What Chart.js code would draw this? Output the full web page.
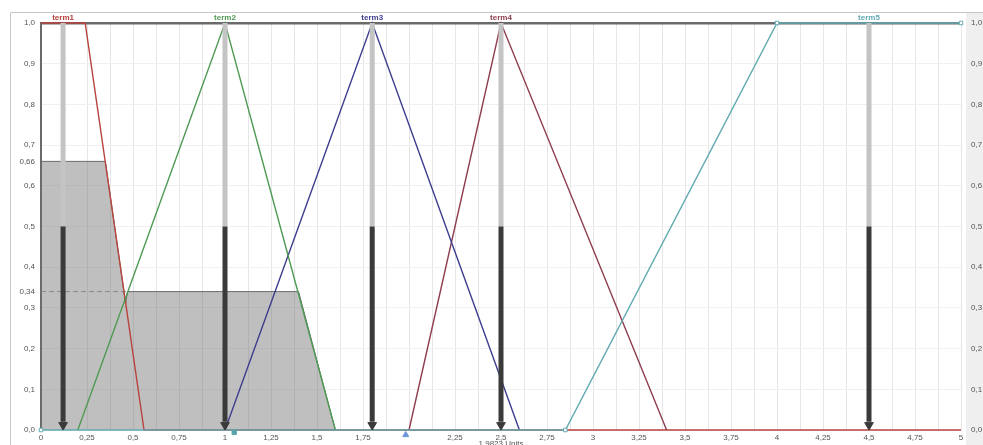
<!DOCTYPE html>
<html>
<head>
<meta charset="utf-8">
<script src="https://cdn.jsdelivr.net/npm/chart.js@4.4.0/dist/chart.umd.min.js"></script>
<style>
  html, body { margin: 0; padding: 0; background: #fff; overflow: hidden; }
  #wrap { position: relative; width: 1000px; height: 449px; }
</style>
</head>
<body>
<div id="wrap"><canvas id="fuzzyChart" width="1000" height="449"></canvas></div>
<script>
// membership functions (x, membership degree)
const termNames = ["term1", "term2", "term3", "term4", "term5"];
const termColors = ["#b8423c", "#4f9a52", "#3d3d8f", "#8e3d4e", "#62a9b1"];
const term1X = [0, 0.24, 0.56, 5];
const term1Y = [1, 1, 0, 0];
const term2X = [0.2, 1, 1.6];
const term2Y = [0, 1, 0];
const term3X = [1, 1.8, 2.6];
const term3Y = [0, 1, 0];
const term4X = [2, 2.5, 3.4];
const term4Y = [0, 1, 0];
const term5X = [0, 2.85, 4, 5];
const term5Y = [0, 0, 1, 1];

// term centre values (the vertical bars)
const termCenters = [0.12, 1, 1.8, 2.5, 4.5];
const barTop = 1;
const barMid = 0.5;

// aggregated (clipped) output area
const aggX = [0, 0.35, 0.46, 0.47, 1.4, 1.6];
const aggY = [0.66, 0.66, 0.31, 0.34, 0.34, 0];
const clipLevels = [0.66, 0.34];

// crisp output
const crispValue = 1.9823;
const inputValue = 1.05;
const unitLabel = "Units";

const yTicks = [0, 0.1, 0.2, 0.3, 0.4, 0.5, 0.6, 0.7, 0.8, 0.9, 1.0];

function pts(xs, ys) {
  return xs.map((x, i) => ({ x: x, y: ys[i] }));
}
function fmt(v, d) {
  return v.toFixed(d).replace(".", ",");
}

const termData = [pts(term1X, term1Y), pts(term2X, term2Y), pts(term3X, term3Y), pts(term4X, term4Y), pts(term5X, term5Y)];

// bars: light upper part and dark lower part, broken with gaps
const lightBars = [];
const darkBars = [];
termCenters.forEach((c) => {
  lightBars.push({ x: c, y: barTop }, { x: c, y: barMid }, { x: c, y: null });
  darkBars.push({ x: c, y: barMid }, { x: c, y: 0.02 }, { x: c, y: null });
});

const datasets = [];
datasets.push({
  label: "aggregate",
  data: pts(aggX, aggY),
  showLine: true,
  fill: "origin",
  backgroundColor: "rgba(115,112,112,0.45)",
  borderColor: "#6a6a6a",
  borderWidth: 1,
  pointRadius: 0,
  order: 10,
});
datasets.push({
  label: "cut",
  data: [{ x: 0, y: clipLevels[1] }, { x: aggX[3], y: clipLevels[1] }],
  showLine: true,
  borderColor: "#8a8a8a",
  borderWidth: 1,
  borderDash: [5, 3],
  pointRadius: 0,
  order: 9,
});
const termOrder = [7, 4, 5, 6, 3];
termData.forEach((d, i) => {
  datasets.push({
    label: termNames[i],
    data: d,
    showLine: true,
    borderColor: termColors[i],
    borderWidth: 1.4,
    pointRadius: i === 4 ? 2.5 : 0,
    pointStyle: "rect",
    pointBackgroundColor: "#fff",
    pointBorderColor: termColors[i],
    pointBorderWidth: 1,
    clip: 6,
    order: termOrder[i],
  });
});
datasets.push({
  label: "barsLight",
  data: lightBars,
  showLine: true,
  spanGaps: false,
  borderColor: "#c4c4c4",
  borderWidth: 5,
  borderCapStyle: "butt",
  pointRadius: 0,
  order: 2,
});
datasets.push({
  label: "barsDark",
  data: darkBars,
  showLine: true,
  spanGaps: false,
  borderColor: "#3a3a3a",
  borderWidth: 5,
  borderCapStyle: "butt",
  pointRadius: 0,
  order: 1,
});
datasets.push({
  label: "arrows",
  data: termCenters.map((c) => ({ x: c, y: 0.012 })),
  showLine: false,
  pointStyle: "triangle",
  rotation: 180,
  pointRadius: 5,
  pointBackgroundColor: "#3a3a3a",
  pointBorderColor: "#3a3a3a",
  order: 0,
});
datasets.push({
  label: "markers",
  data: [{ x: inputValue, y: -0.006 }, { x: crispValue, y: -0.012 }],
  showLine: false,
  pointStyle: ["rect", "triangle"],
  pointRadius: [3, 3.5],
  pointBackgroundColor: ["#5aa3ad", "#6f96d8"],
  pointBorderColor: ["#5aa3ad", "#6f96d8"],
  clip: false,
  order: 0,
});

const framePlugin = {
  id: "frame",
  beforeDraw(chart) {
    const { ctx, chartArea: a } = chart;
    ctx.save();
    ctx.fillStyle = "#efefef";
    ctx.fillRect(a.right + 5, 13, chart.width - a.right - 5, chart.height);
    ctx.strokeStyle = "#c6c6c6";
    ctx.lineWidth = 1;
    ctx.beginPath();
    ctx.moveTo(10.5, chart.height);
    ctx.lineTo(10.5, 12.5);
    ctx.lineTo(chart.width, 12.5);
    ctx.stroke();
    ctx.restore();
  },
  afterDraw(chart) {
    const { ctx, scales } = chart;
    ctx.save();
    ctx.font = "bold 8px 'Liberation Sans', Arial, sans-serif";
    ctx.textAlign = "center";
    ctx.textBaseline = "middle";
    termNames.forEach((n, i) => {
      ctx.fillStyle = termColors[i];
      ctx.fillText(n, scales.x.getPixelForValue(termCenters[i]), 17.5);
    });
    ctx.restore();
  },
};

const tickFont = { family: "'Liberation Sans', Arial, sans-serif", size: 8 };
const allYTicks = yTicks.concat(clipLevels);
function yLabel(v) {
  return clipLevels.includes(v) ? fmt(v, 2) : fmt(v, 1);
}

new Chart(document.getElementById("fuzzyChart").getContext("2d"), {
  type: "scatter",
  data: { datasets: datasets },
  plugins: [framePlugin],
  options: {
    responsive: false,
    animation: false,
    layout: { padding: { top: 23, left: 0, right: 0, bottom: 0 } },
    plugins: { legend: { display: false }, tooltip: { enabled: false } },
    scales: {
      x: {
        type: "linear",
        min: 0,
        max: 5,
        afterFit: (s) => { s.height = 19; },
        ticks: {
          stepSize: 0.125,
          autoSkip: false,
          maxRotation: 0,
          padding: 3,
          color: "#555",
          font: tickFont,
          callback: (v) => {
            if (Math.abs(v * 4 - Math.round(v * 4)) > 1e-6) return "";
            if (Math.abs(v - 2) < 1e-6) return "";
            return String(v).replace(".", ",");
          },
        },
        grid: { color: "#e6e6e6", drawTicks: false },
        border: { display: false },
        title: {
          display: true,
          text: fmt(crispValue, 4) + " " + unitLabel,
          color: "#555",
          font: tickFont,
          padding: { top: 0, bottom: 0 },
        },
      },
      y: {
        type: "linear",
        position: "left",
        min: 0,
        max: 1,
        afterFit: (s) => { s.width = 41; },
        afterBuildTicks: (s) => { s.ticks = allYTicks.map((v) => ({ value: v })); },
        ticks: { autoSkip: false, padding: 6, color: "#555", font: tickFont, callback: yLabel },
        grid: {
          drawTicks: false,
          color: (c) => (c.tick && c.tick.value === 1 ? "#6a6a6a" : clipLevels.includes(c.tick && c.tick.value) ? "rgba(0,0,0,0)" : "#f0f0f0"),
          lineWidth: (c) => (c.tick && c.tick.value === 1 ? 2.5 : 1),
        },
        border: { color: "#6a6a6a", width: 2 },
      },
      y2: {
        type: "linear",
        position: "right",
        min: 0,
        max: 1,
        afterFit: (s) => { s.width = 39; },
        afterBuildTicks: (s) => { s.ticks = yTicks.map((v) => ({ value: v })); },
        ticks: { autoSkip: false, padding: 10, color: "#555", font: tickFont, callback: yLabel },
        grid: { display: false, drawTicks: false },
        border: { display: false },
      },
    },
  },
});
</script>
</body>
</html>
